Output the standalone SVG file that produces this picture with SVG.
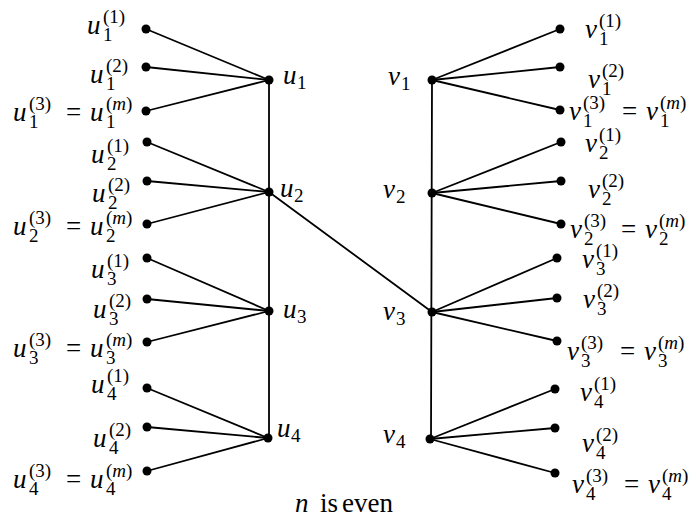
<svg xmlns="http://www.w3.org/2000/svg" width="699" height="520" viewBox="0 0 699 520">
<style>
.bg{fill:#fff}
.e{stroke:#000;stroke-width:1.8;fill:none;stroke-linecap:round}
.d{fill:#000}
.v{font-size:27px;font-style:italic;fill:#000}
.s{font-size:19px;font-style:normal}
.i{font-style:italic}
.r{font-size:27px;font-style:normal;fill:#000}
</style>
<rect class="bg" x="0" y="0" width="699" height="520"/>
<g id="connectors">
<line class="e" x1="269" y1="80" x2="269" y2="438"/>
<line class="e" x1="432" y1="80" x2="431" y2="439"/>
<line class="e" x1="269" y1="192" x2="432" y2="312"/>
<line class="e" x1="146" y1="29" x2="269" y2="80"/>
<line class="e" x1="146" y1="67" x2="269" y2="80"/>
<line class="e" x1="146" y1="111" x2="269" y2="80"/>
<line class="e" x1="147" y1="142" x2="269" y2="192"/>
<line class="e" x1="147" y1="181" x2="269" y2="192"/>
<line class="e" x1="147" y1="224" x2="269" y2="192"/>
<line class="e" x1="147" y1="258" x2="269" y2="311"/>
<line class="e" x1="147" y1="299" x2="269" y2="311"/>
<line class="e" x1="147" y1="342" x2="269" y2="311"/>
<line class="e" x1="147" y1="388" x2="268" y2="438"/>
<line class="e" x1="147" y1="427" x2="268" y2="438"/>
<line class="e" x1="147" y1="471" x2="268" y2="438"/>
<line class="e" x1="560" y1="29" x2="432" y2="80"/>
<line class="e" x1="560" y1="67" x2="432" y2="80"/>
<line class="e" x1="560" y1="110" x2="432" y2="80"/>
<line class="e" x1="561" y1="142" x2="432" y2="193"/>
<line class="e" x1="561" y1="181" x2="432" y2="193"/>
<line class="e" x1="561" y1="224" x2="432" y2="193"/>
<line class="e" x1="557" y1="258" x2="432" y2="312"/>
<line class="e" x1="557" y1="298" x2="432" y2="312"/>
<line class="e" x1="557" y1="341" x2="432" y2="312"/>
<line class="e" x1="555" y1="389" x2="430" y2="439"/>
<line class="e" x1="555" y1="428" x2="430" y2="439"/>
<line class="e" x1="555" y1="473" x2="430" y2="439"/>
</g>
<g font-family="Liberation Serif, serif">
<g id="u1"><circle class="d" cx="269" cy="80" r="4.5"/><text class="v" x="283" y="84">u<tspan class="s" x="297" y="89">1</tspan></text></g>
<g id="u2"><circle class="d" cx="269" cy="192" r="4.5"/><text class="v" x="280" y="197">u<tspan class="s" x="294" y="202">2</tspan></text></g>
<g id="u3"><circle class="d" cx="269" cy="311" r="4.5"/><text class="v" x="283" y="318">u<tspan class="s" x="297" y="323">3</tspan></text></g>
<g id="u4"><circle class="d" cx="268" cy="438" r="4.5"/><text class="v" x="277" y="437">u<tspan class="s" x="291" y="442">4</tspan></text></g>
<g id="v1"><circle class="d" cx="432" cy="80" r="4.5"/><text class="v" x="388" y="85">v<tspan class="s" x="401" y="90">1</tspan></text></g>
<g id="v2"><circle class="d" cx="432" cy="193" r="4.5"/><text class="v" x="383" y="198">v<tspan class="s" x="396" y="203">2</tspan></text></g>
<g id="v3"><circle class="d" cx="432" cy="312" r="4.5"/><text class="v" x="383" y="320">v<tspan class="s" x="396" y="325">3</tspan></text></g>
<g id="v4"><circle class="d" cx="430" cy="439" r="4.5"/><text class="v" x="383" y="443">v<tspan class="s" x="396" y="448">4</tspan></text></g>

<g id="u1_1"><circle class="d" cx="146" cy="29" r="4.5"/><text class="v" x="87" y="34">u<tspan class="s" x="103" y="23">(1)</tspan><tspan class="s" x="103" y="41">1</tspan></text></g>
<g id="u1_2"><circle class="d" cx="146" cy="67" r="4.5"/><text class="v" x="90" y="83">u<tspan class="s" x="106" y="72">(2)</tspan><tspan class="s" x="106" y="90">1</tspan></text></g>
<g id="u1_3"><circle class="d" cx="146" cy="111" r="4.5"/><text class="v" x="13" y="121">u<tspan class="s" x="29" y="110">(3)</tspan><tspan class="s" x="29" y="128">1</tspan><tspan class="r" x="66" y="121">=</tspan><tspan x="90" y="121">u</tspan><tspan class="s" x="106" y="110">(<tspan class="i">m</tspan>)</tspan><tspan class="s" x="106" y="128">1</tspan></text></g>
<g id="u2_1"><circle class="d" cx="147" cy="142" r="4.5"/><text class="v" x="91" y="163">u<tspan class="s" x="107" y="152">(1)</tspan><tspan class="s" x="107" y="170">2</tspan></text></g>
<g id="u2_2"><circle class="d" cx="147" cy="181" r="4.5"/><text class="v" x="92" y="202">u<tspan class="s" x="108" y="191">(2)</tspan><tspan class="s" x="108" y="209">2</tspan></text></g>
<g id="u2_3"><circle class="d" cx="147" cy="224" r="4.5"/><text class="v" x="13" y="235">u<tspan class="s" x="29" y="224">(3)</tspan><tspan class="s" x="29" y="242">2</tspan><tspan class="r" x="66" y="235">=</tspan><tspan x="90" y="235">u</tspan><tspan class="s" x="106" y="224">(<tspan class="i">m</tspan>)</tspan><tspan class="s" x="106" y="242">2</tspan></text></g>
<g id="u3_1"><circle class="d" cx="147" cy="258" r="4.5"/><text class="v" x="91" y="278">u<tspan class="s" x="107" y="267">(1)</tspan><tspan class="s" x="107" y="285">3</tspan></text></g>
<g id="u3_2"><circle class="d" cx="147" cy="299" r="4.5"/><text class="v" x="93" y="318">u<tspan class="s" x="109" y="307">(2)</tspan><tspan class="s" x="109" y="325">3</tspan></text></g>
<g id="u3_3"><circle class="d" cx="147" cy="342" r="4.5"/><text class="v" x="13" y="357">u<tspan class="s" x="29" y="346">(3)</tspan><tspan class="s" x="29" y="364">3</tspan><tspan class="r" x="66" y="357">=</tspan><tspan x="90" y="357">u</tspan><tspan class="s" x="106" y="346">(<tspan class="i">m</tspan>)</tspan><tspan class="s" x="106" y="364">3</tspan></text></g>
<g id="u4_1"><circle class="d" cx="147" cy="388" r="4.5"/><text class="v" x="91" y="393">u<tspan class="s" x="107" y="382">(1)</tspan><tspan class="s" x="107" y="400">4</tspan></text></g>
<g id="u4_2"><circle class="d" cx="147" cy="427" r="4.5"/><text class="v" x="93" y="447">u<tspan class="s" x="109" y="436">(2)</tspan><tspan class="s" x="109" y="454">4</tspan></text></g>
<g id="u4_3"><circle class="d" cx="147" cy="471" r="4.5"/><text class="v" x="13" y="488">u<tspan class="s" x="29" y="477">(3)</tspan><tspan class="s" x="29" y="495">4</tspan><tspan class="r" x="66" y="488">=</tspan><tspan x="90" y="488">u</tspan><tspan class="s" x="106" y="477">(<tspan class="i">m</tspan>)</tspan><tspan class="s" x="106" y="495">4</tspan></text></g>

<g id="v1_1"><circle class="d" cx="560" cy="29" r="4.5"/><text class="v" x="585" y="38">v<tspan class="s" x="599" y="27">(1)</tspan><tspan class="s" x="599" y="45">1</tspan></text></g>
<g id="v1_2"><circle class="d" cx="560" cy="67" r="4.5"/><text class="v" x="588" y="88">v<tspan class="s" x="602" y="77">(2)</tspan><tspan class="s" x="602" y="95">1</tspan></text></g>
<g id="v1_3"><circle class="d" cx="560" cy="110" r="4.5"/><text class="v" x="569" y="120">v<tspan class="s" x="583" y="109">(3)</tspan><tspan class="s" x="583" y="127">1</tspan><tspan class="r" x="622" y="120">=</tspan><tspan x="646" y="120">v</tspan><tspan class="s" x="660" y="109">(<tspan class="i">m</tspan>)</tspan><tspan class="s" x="660" y="127">1</tspan></text></g>
<g id="v2_1"><circle class="d" cx="561" cy="142" r="4.5"/><text class="v" x="585" y="152">v<tspan class="s" x="599" y="141">(1)</tspan><tspan class="s" x="599" y="159">2</tspan></text></g>
<g id="v2_2"><circle class="d" cx="561" cy="181" r="4.5"/><text class="v" x="588" y="198">v<tspan class="s" x="602" y="187">(2)</tspan><tspan class="s" x="602" y="205">2</tspan></text></g>
<g id="v2_3"><circle class="d" cx="561" cy="224" r="4.5"/><text class="v" x="570" y="238">v<tspan class="s" x="584" y="227">(3)</tspan><tspan class="s" x="584" y="245">2</tspan><tspan class="r" x="621" y="238">=</tspan><tspan x="645" y="238">v</tspan><tspan class="s" x="659" y="227">(<tspan class="i">m</tspan>)</tspan><tspan class="s" x="659" y="245">2</tspan></text></g>
<g id="v3_1"><circle class="d" cx="557" cy="258" r="4.5"/><text class="v" x="582" y="268">v<tspan class="s" x="596" y="257">(1)</tspan><tspan class="s" x="596" y="275">3</tspan></text></g>
<g id="v3_2"><circle class="d" cx="557" cy="298" r="4.5"/><text class="v" x="583" y="308">v<tspan class="s" x="597" y="297">(2)</tspan><tspan class="s" x="597" y="315">3</tspan></text></g>
<g id="v3_3"><circle class="d" cx="557" cy="341" r="4.5"/><text class="v" x="567" y="360">v<tspan class="s" x="581" y="349">(3)</tspan><tspan class="s" x="581" y="367">3</tspan><tspan class="r" x="620" y="360">=</tspan><tspan x="644" y="360">v</tspan><tspan class="s" x="658" y="349">(<tspan class="i">m</tspan>)</tspan><tspan class="s" x="658" y="367">3</tspan></text></g>
<g id="v4_1"><circle class="d" cx="555" cy="389" r="4.5"/><text class="v" x="580" y="401">v<tspan class="s" x="594" y="390">(1)</tspan><tspan class="s" x="594" y="408">4</tspan></text></g>
<g id="v4_2"><circle class="d" cx="555" cy="428" r="4.5"/><text class="v" x="582" y="452">v<tspan class="s" x="596" y="441">(2)</tspan><tspan class="s" x="596" y="459">4</tspan></text></g>
<g id="v4_3"><circle class="d" cx="555" cy="473" r="4.5"/><text class="v" x="572" y="493">v<tspan class="s" x="586" y="482">(3)</tspan><tspan class="s" x="586" y="500">4</tspan><tspan class="r" x="624" y="493">=</tspan><tspan x="648" y="493">v</tspan><tspan class="s" x="662" y="482">(<tspan class="i">m</tspan>)</tspan><tspan class="s" x="662" y="500">4</tspan></text></g>

<g id="caption"><text class="r" x="295" y="512"><tspan class="i">n</tspan><tspan x="320">is</tspan><tspan x="342">even</tspan></text></g>
</g>
</svg>
